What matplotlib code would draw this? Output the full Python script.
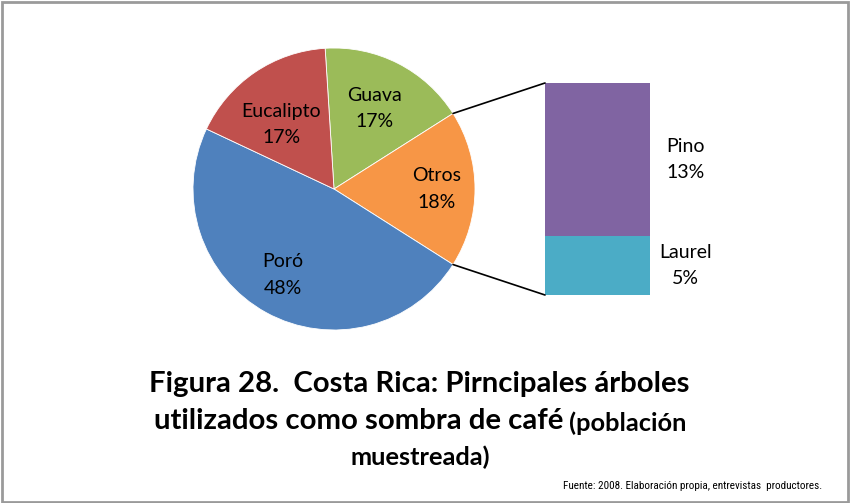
import matplotlib
matplotlib.use('Agg')
import numpy as np
import matplotlib.pyplot as plt
from matplotlib import font_manager
from matplotlib.patches import ConnectionPatch, Rectangle

# datos del gráfico (porcentajes)
pie_names = ['Guava', 'Otros', 'Poró', 'Eucalipto']
pie_values = [17, 18, 48, 17]
pie_colors = ['#9BBB59', '#F79646', '#4F81BD', '#C0504D']

bar_names = ['Laurel', 'Pino']
bar_values = [5, 13]
bar_colors = ['#4BACC6', '#8064A2']

title_1 = 'Figura 28.  Costa Rica: Pirncipales árboles'
title_2a = 'utilizados como sombra de café'
title_2b = ' (población'
title_3 = 'muestreada)'
fuente = 'Fuente: 2008. Elaboración propia, entrevistas  productores.'

plt.rcParams['font.family'] = ['Lato', 'DejaVu Sans']

W, H = 851, 503
fig = plt.figure(figsize=(W / 100, H / 100), dpi=100)
renderer = fig.canvas.get_renderer()

# marco gris alrededor
fig.patches.append(Rectangle((0.002, 0.002), 0.995, 0.994, transform=fig.transFigure,
                             fill=False, edgecolor='#9a9a9a', linewidth=2))

# pastel: el segmento "Otros" centrado a la derecha
total = sum(pie_values)
start = pie_values[1] / total * 360 / 2 + pie_values[0] / total * 360
cx, cy, r = 334, 189, 141
ax1 = fig.add_axes([(cx - r) / W, (H - cy - r) / H, 2 * r / W, 2 * r / H])
labels = [f'{n}\n{v}%' for n, v in zip(pie_names, pie_values)]
wedges, texts = ax1.pie(pie_values, colors=pie_colors, startangle=start, counterclock=False,
                        labels=labels,
                        wedgeprops=dict(edgecolor='white', linewidth=0.6),
                        textprops=dict(fontsize=14, color='black'))
# posición de etiquetas tipo "mejor ajuste" de Excel
label_dist = [0.64, 0.73, 0.71, 0.59]
label_shift = [0, 0, -2, 5]
for t, wd, d, s in zip(texts, wedges, label_dist, label_shift):
    ang = np.radians((wd.theta1 + wd.theta2) / 2 + s)
    t.set_position((d * np.cos(ang), d * np.sin(ang)))
    t.set_ha('center')
    t.set_va('center')
    t.set_linespacing(1.7)
ax1.set_xlim(-1, 1)
ax1.set_ylim(-1, 1)
ax1.set_aspect('equal')

# barra apilada para "Otros"
ax2 = fig.add_axes([545 / W, (H - 295) / H, 105 / W, 212 / H])
bottom = 0
for n, v, c in zip(bar_names, bar_values, bar_colors):
    ax2.bar(0, v, bottom=bottom, width=1, color=c)
    ax2.text(0.84, bottom + v / 2, f'{n}\n{v}%', ha='center', va='center', fontsize=14,
             linespacing=1.7, clip_on=False)
    bottom += v
ax2.set_xlim(-0.5, 0.5)
ax2.set_ylim(0, bottom)
ax2.axis('off')

# líneas de conexión
w = wedges[1]
for ang, yb in [(w.theta2, bottom), (w.theta1, 0)]:
    xa, ya = np.cos(np.radians(ang)), np.sin(np.radians(ang))
    con = ConnectionPatch(xyA=(xa, ya), coordsA=ax1.transData, xyB=(-0.5, yb), coordsB=ax2.transData,
                          color='black', linewidth=1.2)
    fig.add_artist(con)

# título
fig.text(419 / W, 1 - 384 / H, title_1, ha='center', va='center', fontsize=21.2, fontweight='bold')
ta = fig.text(0, 1 - 421 / H, title_2a, ha='left', va='center', fontsize=21.2, fontweight='bold')
tb = fig.text(0, 1 - 423 / H, title_2b, ha='left', va='center', fontsize=18.3, fontweight='bold')
wa = ta.get_window_extent(renderer).width
wb = tb.get_window_extent(renderer).width
x0 = 420 - (wa + wb) / 2
ta.set_x(x0 / W)
tb.set_x((x0 + wa) / W)
fig.text(420 / W, 1 - 457 / H, title_3, ha='center', va='center', fontsize=18.3, fontweight='bold')

# fuente: letra estrecha si existe; ajustar tamaño al ancho del original
installed = {f.name for f in font_manager.fontManager.ttflist}
narrow = [f for f in ['Liberation Sans Narrow', 'Roboto Condensed', 'Open Sans Condensed',
                      'Arial Narrow', 'Liberation Sans'] if f in installed]
tf = fig.text(822 / W, 1 - 486 / H, fuente, ha='right', va='center', fontsize=10,
              family=narrow[:1] + ['DejaVu Sans'])
wf = tf.get_window_extent(renderer).width
tf.set_fontsize(10 * 256 / wf)

fig.savefig('out.png', dpi=100)
